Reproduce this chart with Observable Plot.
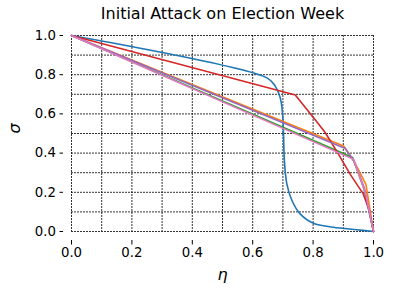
<!DOCTYPE html>
<html>
<head>
<meta charset="utf-8">
<script src="https://cdn.jsdelivr.net/npm/d3@7"></script>
<script src="https://cdn.jsdelivr.net/npm/@observablehq/plot@0.6"></script>
<style>
  body { margin: 0; background: #fff; }
  #chart { position: relative; width: 399px; height: 289px; }
  svg { font-family: "DejaVu Sans", sans-serif; }
</style>
</head>
<body>
<div id="chart"></div>
<script>
const titleText = "Initial Attack on Election Week";
const xLabel = "η";
const yLabel = "σ";
const majorTicks = [0, 0.2, 0.4, 0.6, 0.8, 1.0];
const minorTicks = [0.1, 0.3, 0.5, 0.7, 0.9];

const blueEta   = [0, 0.647, 0.674, 0.691, 0.699, 0.702, 0.705, 0.713, 0.730, 0.757, 0.801, 0.867, 0.944, 1.0];
const blueSigma = [1, 0.784, 0.743, 0.683, 0.599, 0.497, 0.361, 0.243, 0.158, 0.090, 0.042, 0.022, 0.009, 0];
const orangeEta   = [0, 0.901, 0.935, 0.975, 1.0];
const orangeSigma = [1, 0.436, 0.36, 0.24, 0];
const greenEta   = [0, 0.931, 0.968, 1.0];
const greenSigma = [1, 0.377, 0.22, 0];
const redEta   = [0, 0.741, 0.801, 0.840, 0.884, 0.922, 0.966, 0.986, 1.0];
const redSigma = [1, 0.696, 0.582, 0.505, 0.395, 0.294, 0.192, 0.107, 0];
const purpleEta   = [0, 0.907, 0.935, 0.970, 1.0];
const purpleSigma = [1, 0.423, 0.36, 0.22, 0];
const pinkEta   = [0, 0.934, 0.975, 1.0];
const pinkSigma = [1, 0.368, 0.19, 0];

const seriesList = [
  {name: "blue",   color: "#1f77b4", eta: blueEta,   sigma: blueSigma, curve: "catmull-rom"},
  {name: "orange", color: "#ff7f0e", eta: orangeEta, sigma: orangeSigma, curve: "linear"},
  {name: "green",  color: "#2ca02c", eta: greenEta,  sigma: greenSigma, curve: "linear"},
  {name: "red",    color: "#d62728", eta: redEta,    sigma: redSigma, curve: "linear"},
  {name: "purple", color: "#9467bd", eta: purpleEta, sigma: purpleSigma, curve: "linear"},
  {name: "pink",   color: "#e377c2", eta: pinkEta,   sigma: pinkSigma, curve: "linear"}
];

const rows = seriesList.flatMap(s => s.eta.map((e, i) => ({series: s.name, eta: e, sigma: s.sigma[i]})));

const fmt = d3.format(".1f");
const gridStyle = {stroke: "#000", strokeOpacity: 0.8, strokeWidth: 1, strokeDasharray: "2,1"};
const chart = Plot.plot({
  width: 399,
  height: 289,
  marginLeft: 71,
  marginRight: 26,
  marginTop: 35,
  marginBottom: 58,
  style: {fontFamily: "DejaVu Sans, sans-serif", fontSize: "13.3px", color: "#000", background: "#fff"},
  x: {domain: [0, 1]},
  y: {domain: [0, 1]},
  marks: [
    Plot.gridX([...majorTicks, ...minorTicks], gridStyle),
    Plot.gridY([...majorTicks, ...minorTicks], gridStyle),
    ...seriesList.map(s => Plot.line(rows.filter(r => r.series === s.name), {x: "eta", y: "sigma", stroke: s.color, strokeWidth: 1.6, curve: s.curve})),
    Plot.axisX(majorTicks, {anchor: "bottom", dy: 9, tickSize: 4.5, tickPadding: 3, tickFormat: fmt, label: null, fontSize: 13.3}),
    Plot.axisY(majorTicks, {anchor: "left", dx: -8, tickSize: 3.5, tickPadding: 4, tickFormat: fmt, label: null, fontSize: 13.3}),
    Plot.text([titleText], {frameAnchor: "top", dy: -22, fontSize: 16, text: d => d, lineAnchor: "middle"}),
    Plot.text([xLabel], {frameAnchor: "bottom", dy: 43, fontSize: 16, fontStyle: "italic", text: d => d, lineAnchor: "middle"}),
    Plot.text([yLabel], {frameAnchor: "left", dx: -57, fontSize: 16, fontStyle: "italic", rotate: -90, text: d => d, lineAnchor: "middle"})
  ]
});
document.getElementById("chart").appendChild(chart);
</script>
</body>
</html>
